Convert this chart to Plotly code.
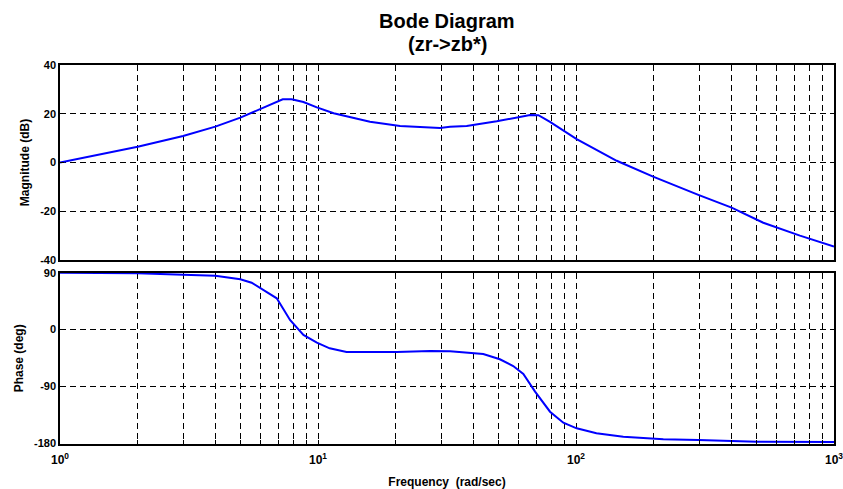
import plotly.graph_objects as go

# ---- data ----
freq_mag = [1, 2, 3, 4, 5, 5.53, 7.3, 7.9, 8.78, 9.9, 11.5, 15.9, 20.8, 29.7, 32.5,
            37.7, 49.3, 66.4, 71.5, 79.3, 100.6, 143.8, 199, 298, 401, 532, 738, 1000]
mag_db = [0, 6.5, 10.9, 14.7, 18.4, 20.4, 25.9, 25.9, 24.8, 22.6, 20.2, 16.7, 15.0, 14.2, 14.7,
          15.0, 16.9, 19.5, 19.4, 16.7, 9.6, 0.7, -5.8, -13.3, -18.5, -24.7, -30.0, -34.5]

freq_ph = [1, 2, 3, 4, 5, 5.53, 6.92, 7.79, 8.78, 9.9, 11.1, 12.9, 20.2, 27.2, 32.5,
           43.7, 50.7, 57.1, 62.5, 69.4, 79.3, 89.3, 100.6, 120, 152.5, 218, 298, 351, 501, 1000]
phase_deg = [90, 89.0, 86.9, 85.3, 79.6, 74.2, 49.5, 15.2, -8.5, -20.7, -29.6, -35.4, -35.4, -33.8, -34.3,
             -38.6, -47, -57.6, -70.3, -98.2, -129.9, -147.3, -156.2, -164, -169.5, -173.6, -174.6, -175.7, -177.3, -177.8]

x_tickvals = [m * 10 ** d for d in range(3) for m in range(1, 10)] + [1000]
x_ticktext = [("10<sup>%d</sup>" % d if m == 1 else "") for d in range(3) for m in range(1, 10)] + ["10<sup>3</sup>"]

mag_ticks = [-40, -20, 0, 20, 40]
phase_ticks = [-180, -90, 0, 90]

title_lines = ["Bode Diagram", "(zr-&gt;zb*)"]
xlabel = "Frequency \u00a0(rad/sec)"
ylabel_mag = "Magnitude (dB)"
ylabel_ph = "Phase (deg)"

FONT = "Liberation Sans, Arial, sans-serif"
BLUE = "rgb(0,0,255)"

W, H = 843, 489
M_L, M_R, M_T, M_B = 60, 9, 65, 45
PLOT_H = H - M_T - M_B


def paper_y(px):
    return (H - M_B - px) / PLOT_H


def paper_x(px):
    return (px - M_L) / (W - M_L - M_R)


fig = go.Figure()
fig.add_trace(go.Scatter(x=freq_mag, y=mag_db, mode="lines",
                         line=dict(color=BLUE, width=2), xaxis="x", yaxis="y",
                         showlegend=False, hoverinfo="skip"))
fig.add_trace(go.Scatter(x=freq_ph, y=phase_deg, mode="lines",
                         line=dict(color=BLUE, width=2), xaxis="x2", yaxis="y2",
                         showlegend=False, hoverinfo="skip"))

axis_common = dict(showline=True, linecolor="black", linewidth=1.5, mirror=True,
                   ticks="inside", ticklen=4, tickcolor="black",
                   showgrid=True, gridcolor="black", gridwidth=1, griddash="6px,4px",
                   zeroline=False, automargin=False)

ytickfont = dict(family=FONT, size=11, color="black", weight="bold")
xtickfont = dict(family=FONT, size=12, color="black", weight="bold")

for i, (txt, ypx) in enumerate(zip(title_lines, [21, 44])):
    fig.add_annotation(text="<b>" + txt + "</b>", xref="paper", yref="paper",
                       x=paper_x(447), y=paper_y(ypx), xanchor="center", yanchor="middle",
                       showarrow=False, font=dict(family=FONT, size=20, color="black"))

fig.update_layout(
    width=W, height=H,
    margin=dict(l=M_L, r=M_R, t=M_T, b=M_B),
    paper_bgcolor="white", plot_bgcolor="white",
    font=dict(family=FONT, color="black"),
    xaxis=dict(type="log", range=[0, 3], domain=[0, 1], anchor="y",
               tickvals=x_tickvals, ticktext=["" for _ in x_tickvals],
               tickfont=xtickfont, **axis_common),
    yaxis=dict(range=[-40, 40], domain=[0.4855, 1], anchor="x",
               tickvals=mag_ticks, ticktext=[str(v) for v in mag_ticks], tickfont=ytickfont,
               title=dict(text="<b>" + ylabel_mag + "</b>", standoff=8,
                          font=dict(family=FONT, size=12, color="black")),
               **axis_common),
    xaxis2=dict(type="log", range=[0, 3], domain=[0, 1], anchor="y2", matches="x",
                tickvals=x_tickvals, ticktext=x_ticktext, ticklabelstandoff=4, tickfont=xtickfont,
                ticklabeloverflow="allow",
                title=dict(text="<b>" + xlabel + "</b>", standoff=13,
                           font=dict(family=FONT, size=12, color="black")),
                **axis_common),
    yaxis2=dict(range=[-181, 90], domain=[0, 0.452], anchor="x2",
                tickvals=phase_ticks, ticktext=[str(v) for v in phase_ticks], tickfont=ytickfont,
                title=dict(text="<b>" + ylabel_ph + "</b>", standoff=8,
                           font=dict(family=FONT, size=12, color="black")),
                **axis_common),
)

fig.write_html("out.html")
